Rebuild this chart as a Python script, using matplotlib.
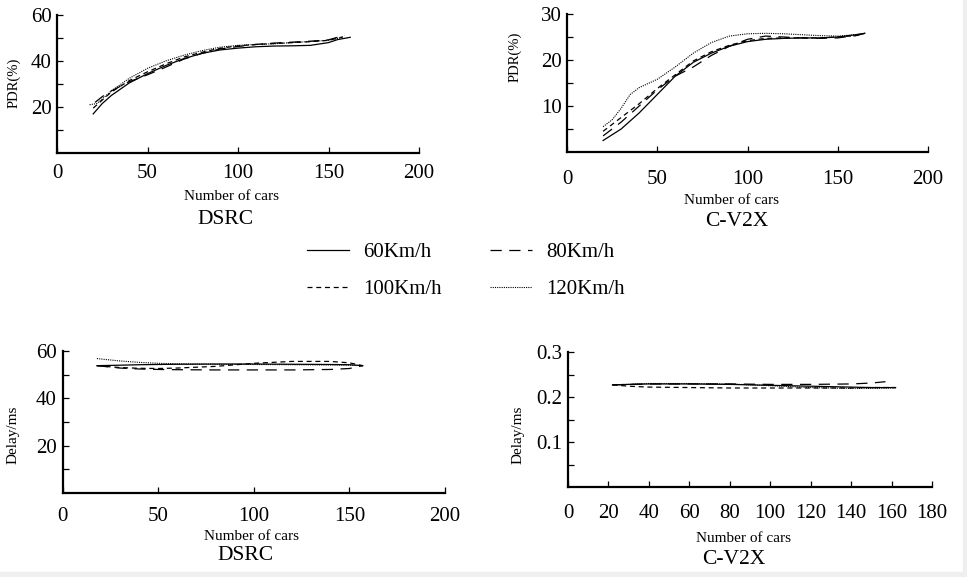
import matplotlib
matplotlib.use("Agg")
import matplotlib.pyplot as plt
from matplotlib.lines import Line2D
from matplotlib.patches import Rectangle

plt.rcParams['font.family'] = ['Liberation Serif', 'DejaVu Serif']

# ---------------- data ----------------
speeds = ["60Km/h", "80Km/h", "100Km/h", "120Km/h"]

# DSRC PDR (%)
dsrc_pdr_x60 = [20, 25, 30, 40, 50, 60, 70, 80, 90, 100, 110, 120, 130, 140, 150, 155, 162]
dsrc_pdr_y60 = [17, 21.5, 25, 30.5, 34.5, 38, 41, 43.3, 44.8, 45.6, 46.2, 46.5, 46.6, 46.8, 48, 49.3, 50.3]
dsrc_pdr_x80 = [21, 25, 30, 40, 50, 60, 70, 80, 90, 100, 110, 120, 130, 140, 150, 159]
dsrc_pdr_y80 = [22, 24.5, 27, 31, 34, 37.3, 40.8, 43.3, 45.2, 46.3, 47.2, 47.8, 48.2, 48.6, 49.2, 51.2]
dsrc_pdr_x100 = [20, 25, 30, 40, 50, 60, 70, 80, 90, 100, 110, 120, 130, 140, 150, 158]
dsrc_pdr_y100 = [19.5, 23, 26.5, 31.5, 35.3, 38.7, 41.7, 43.8, 45.5, 46.6, 47.2, 47.6, 48, 48.4, 49, 50.5]
dsrc_pdr_x120 = [18, 22, 25, 30, 40, 50, 60, 70, 80, 90, 100, 110, 120, 130, 140, 150, 158]
dsrc_pdr_y120 = [21, 21.5, 23.5, 27, 32.5, 36.8, 40, 42.5, 44.5, 46, 46.8, 47.2, 47.5, 48, 48.5, 49, 50.3]

# C-V2X PDR (%)
cv2x_pdr_x = [20, 30, 40, 50, 60, 70, 80, 90, 100, 110, 120, 130, 140, 150, 160, 165]
cv2x_pdr_y60 = [2.5, 5, 8.5, 12.5, 16.5, 19.5, 21.5, 23, 24, 24.5, 24.7, 24.8, 24.8, 25, 25.5, 25.8]
cv2x_pdr_y80 = [3.5, 6.5, 10, 13.5, 16.5, 18.5, 21, 23, 24.5, 25.2, 25, 24.8, 24.7, 24.8, 25.3, 25.8]
cv2x_pdr_y100 = [4.5, 7.5, 10.5, 13.8, 16.8, 19.8, 21.8, 23.2, 24.2, 24.7, 24.8, 24.8, 24.8, 25, 25.3, 25.8]
cv2x_pdr_x120 = [20, 25, 30, 35, 40, 50, 60, 70, 80, 90, 100, 110, 120, 130, 140, 150, 160, 165]
cv2x_pdr_y120 = [5.5, 7, 9.5, 12.5, 14, 15.8, 18.5, 21.5, 23.8, 25.2, 25.7, 25.8, 25.7, 25.5, 25.3, 25.2, 25.5, 25.8]

# DSRC delay (ms)
dsrc_del_x = [18, 30, 40, 50, 60, 80, 100, 120, 140, 150, 157]
dsrc_del_y60 = [53.8, 54.0, 54.2, 54.3, 54.4, 54.5, 54.5, 54.4, 54.3, 54.2, 53.8]
dsrc_del_y80 = [53.8, 52.8, 52.4, 52.2, 52.1, 52.0, 52.0, 52.0, 52.2, 52.6, 53.8]
dsrc_del_y100 = [53.8, 53.0, 52.7, 52.6, 52.8, 53.5, 54.8, 55.6, 55.6, 55.0, 53.8]
dsrc_del_y120 = [56.8, 55.8, 55.2, 54.8, 54.6, 54.4, 54.3, 54.2, 54.1, 54.0, 53.8]

# C-V2X delay (ms)
cv2x_del_x = [22, 30, 40, 60, 80, 100, 120, 140, 150, 162]
cv2x_del_y60 = [0.227, 0.228, 0.229, 0.229, 0.228, 0.226, 0.224, 0.222, 0.221, 0.221]
cv2x_del_x80 = [22, 30, 40, 60, 80, 100, 120, 140, 150, 157]
cv2x_del_y80 = [0.227, 0.228, 0.229, 0.229, 0.229, 0.228, 0.228, 0.229, 0.231, 0.234]
cv2x_del_y100 = [0.227, 0.224, 0.222, 0.221, 0.220, 0.220, 0.220, 0.220, 0.221, 0.221]
cv2x_del_y120 = [0.227, 0.228, 0.230, 0.230, 0.229, 0.225, 0.221, 0.219, 0.219, 0.220]

# ---------------- styles ----------------
styles = {
    "60Km/h": dict(linestyle='-', linewidth=0.9),
    "80Km/h": dict(linestyle=(0, (9, 6)), linewidth=0.9),
    "100Km/h": dict(linestyle=(0, (4, 3)), linewidth=0.9),
    "120Km/h": dict(linestyle=(0, (1, 1)), linewidth=0.8),
}

W, H = 967, 577
fig = plt.figure(figsize=(W / 100, H / 100), dpi=100)

def px_axes(l, t, r, b):
    return fig.add_axes([l / W, 1 - b / H, (r - l) / W, (b - t) / H])

def style_axes(ax, xlim, ylim, xticks, xlabels, yticks, ylabels, xpad, ypad=4):
    ax.set_xlim(*xlim)
    ax.set_ylim(*ylim)
    for s in ['top', 'right']:
        ax.spines[s].set_visible(False)
    for s in ['left', 'bottom']:
        ax.spines[s].set_linewidth(1.6)
    ax.set_xticks(xticks)
    ax.set_xticklabels(xlabels)
    ax.set_yticks(yticks)
    ax.set_yticklabels(ylabels)
    ax.tick_params(axis='both', direction='in', length=4.5, width=0.9, labelsize=15)
    ax.tick_params(axis='x', pad=xpad)
    ax.tick_params(axis='y', pad=ypad)
    ax.patch.set_alpha(0)

def ftext(x, y, s, size, **kw):
    fig.text(x / W, 1 - y / H, s, fontsize=size, ha='center', va='center', **kw)

# ---- top-left: DSRC PDR ----
ax1 = px_axes(57, 15, 419, 153)
ax1.plot(dsrc_pdr_x60, dsrc_pdr_y60, color='black', **styles["60Km/h"])
ax1.plot(dsrc_pdr_x80, dsrc_pdr_y80, color='black', **styles["80Km/h"])
ax1.plot(dsrc_pdr_x100, dsrc_pdr_y100, color='black', **styles["100Km/h"])
ax1.plot(dsrc_pdr_x120, dsrc_pdr_y120, color='black', **styles["120Km/h"])
style_axes(ax1, (0, 200), (0, 60), [0, 50, 100, 150, 200], ['0', '50', '100', '150', '200'],
           [10, 20, 30, 40, 50, 60], ['', '20', '', '40', '', '60'], xpad=8)
ftext(14, 83, "PDR(%)", 10.5, rotation=90)
ftext(231, 196, "Number of cars", 11)
ftext(226, 220, "DSRC", 15.5)

# ---- top-right: C-V2X PDR ----
ax2 = px_axes(567, 14, 928, 152)
ax2.plot(cv2x_pdr_x, cv2x_pdr_y60, color='black', **styles["60Km/h"])
ax2.plot(cv2x_pdr_x, cv2x_pdr_y80, color='black', **styles["80Km/h"])
ax2.plot(cv2x_pdr_x, cv2x_pdr_y100, color='black', **styles["100Km/h"])
ax2.plot(cv2x_pdr_x120, cv2x_pdr_y120, color='black', **styles["120Km/h"])
style_axes(ax2, (0, 200), (0, 30), [0, 50, 100, 150, 200], ['0', '50', '100', '150', '200'],
           [5, 10, 15, 20, 25, 30], ['', '10', '', '20', '', '30'], xpad=13)
ftext(515, 57, "PDR(%)", 10.5, rotation=90)
ftext(731, 200, "Number of cars", 11)
ftext(737, 222, "C-V2X", 15.5)

# ---- bottom-left: DSRC delay ----
ax3 = px_axes(62.5, 351, 445, 493)
ax3.plot(dsrc_del_x, dsrc_del_y60, color='black', **styles["60Km/h"])
ax3.plot(dsrc_del_x, dsrc_del_y80, color='black', **styles["80Km/h"])
ax3.plot(dsrc_del_x, dsrc_del_y100, color='black', **styles["100Km/h"])
ax3.plot(dsrc_del_x, dsrc_del_y120, color='black', **styles["120Km/h"])
style_axes(ax3, (0, 200), (0, 60), [0, 50, 100, 150, 200], ['0', '50', '100', '150', '200'],
           [10, 20, 30, 40, 50, 60], ['', '20', '', '40', '', '60'], xpad=10)
ftext(13, 435, "Delay/ms", 11, rotation=90)
ftext(251, 537, "Number of cars", 11)
ftext(245, 555, "DSRC", 15.5)

# ---- bottom-right: C-V2X delay ----
ax4 = px_axes(568, 352, 932, 487)
ax4.plot(cv2x_del_x, cv2x_del_y60, color='black', **styles["60Km/h"])
ax4.plot(cv2x_del_x80, cv2x_del_y80, color='black', **styles["80Km/h"])
ax4.plot(cv2x_del_x, cv2x_del_y100, color='black', **styles["100Km/h"])
ax4.plot(cv2x_del_x, cv2x_del_y120, color='black', **styles["120Km/h"])
style_axes(ax4, (0, 180), (0, 0.3), list(range(0, 181, 20)), [str(v) for v in range(0, 181, 20)],
           [0.05, 0.1, 0.15, 0.2, 0.25, 0.3], ['', '0.1', '', '0.2', '', '0.3'], xpad=12)
ftext(518, 435, "Delay/ms", 11, rotation=90)
ftext(744, 539, "Number of cars", 11)
ftext(734, 560, "C-V2X", 15.5)

# ---- legend ----
order = ["60Km/h", "100Km/h", "80Km/h", "120Km/h"]
handles = [Line2D([], [], color='black', **styles[k]) for k in order]
fig.legend(handles, order, loc='center', bbox_to_anchor=(466 / W, 1 - 271 / H),
           ncol=2, frameon=False, fontsize=15, handlelength=2.0, handletextpad=0.7,
           columnspacing=2.3, labelspacing=0.85)

# light grey border strips
fig.patches.append(Rectangle((963 / W, 0), 4 / W, 1, transform=fig.transFigure,
                             color='#efefef', zorder=-1))
fig.patches.append(Rectangle((0, 0), 1, 5 / H, transform=fig.transFigure,
                             color='#efefef', zorder=-1))

fig.savefig("out.png", dpi=100)
